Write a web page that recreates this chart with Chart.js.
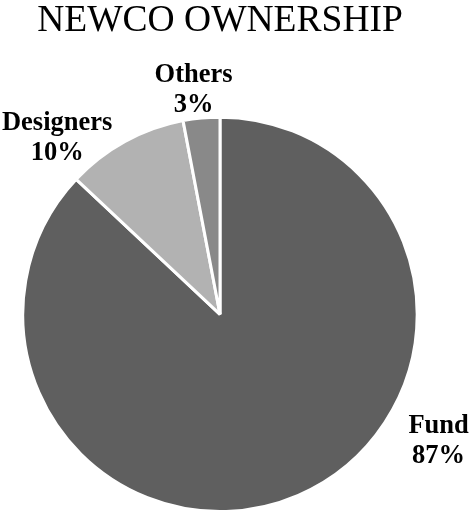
<!DOCTYPE html>
<html>
<head>
<meta charset="utf-8">
<script src="https://cdn.jsdelivr.net/npm/chart.js@4.4.1/dist/chart.umd.min.js"></script>
<style>
html,body{margin:0;padding:0;background:#fff;}
#wrap{width:469px;height:514px;position:relative;}
</style>
</head>
<body>
<div id="wrap"><canvas id="grafico"></canvas></div>
<script>

/* dados */
const categorias=["Fund","Designers","Others"];
const valores=[87,10,3];
const cores=["#5f5f5f","#b2b2b2","#898989"];

/* posição dos rótulos: ângulo (graus, a partir do topo) e raio relativo */
const posRotulos=[
{ang:120,raio:1.28},
{ang:-42.6,raio:1.22},
{ang:-6.7,raio:1.15}
];

const fonteSerif="'Liberation Serif','Times New Roman',serif";

const rotulosPlugin={
id:"rotulos",
afterDatasetsDraw(chart){
const ctx=chart.ctx;
const meta=chart.getDatasetMeta(0);
ctx.save();
ctx.font="bold 26.5px "+fonteSerif;
ctx.fillStyle="#000";
ctx.textAlign="center";
ctx.textBaseline="middle";
meta.data.forEach((arc,i)=>{
const p=posRotulos[i];
const a=p.ang*Math.PI/180;
const r=arc.outerRadius*p.raio;
const x=arc.x+Math.sin(a)*r;
const y=arc.y-Math.cos(a)*r;
ctx.fillText(categorias[i],x,y-14);
ctx.fillText(valores[i]+"%",x,y+16);
});
ctx.restore();
}
};

new Chart(document.getElementById("grafico"),{
type:"pie",
data:{
labels:categorias,
datasets:[{
data:valores,
backgroundColor:cores,
borderColor:"#ffffff",
borderWidth:3
}]
},
options:{
responsive:true,
maintainAspectRatio:false,
animation:false,
layout:{padding:{top:0,bottom:1,left:0,right:29}},
plugins:{
legend:{display:false},
tooltip:{enabled:false},
title:{
display:true,
text:"NEWCO OWNERSHIP",
color:"#000",
font:{family:fonteSerif,size:37.5,weight:"normal",lineHeight:1.15},
padding:{top:0,bottom:72.5}
}
}
},
plugins:[rotulosPlugin]
});

</script>
</body>
</html>
